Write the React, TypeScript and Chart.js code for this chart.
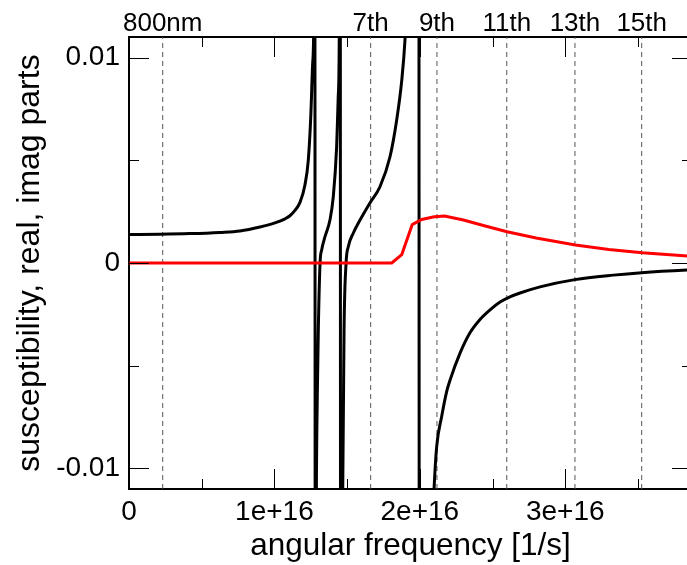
import { useEffect, useRef } from 'react';
import { Chart, registerables } from 'chart.js';

Chart.register(...registerables);

const X_MIN = 0;
const X_MAX = 3.872e16;
const Y_MIN = -0.011;
const Y_MAX = 0.011;

// real part of susceptibility (black)
const realOmega = [
  0, 0.213e16, 0.42e16, 0.626e16, 0.763e16, 0.901e16, 1.004e16, 1.073e16, 1.107e16,
  1.14e16, 1.176e16, 1.21e16, 1.233e16, 1.25e16, 1.263e16, 1.272e16, 1.278e16,
  1.281e16, 1.288e16, 1.295e16, 1.302e16, 1.314e16, 1.325e16, 1.348e16, 1.382e16,
  1.405e16, 1.428e16, 1.439e16, 1.446e16, 1.452e16,
  1.456e16, 1.47e16, 1.479e16, 1.493e16, 1.508e16, 1.543e16, 1.589e16, 1.657e16,
  1.726e16, 1.795e16, 1.841e16, 1.876e16, 1.898e16, 1.93e16, 1.97e16, 1.99e16,
  2.0e16, 2.05e16, 2.098e16, 2.116e16, 2.151e16, 2.185e16, 2.208e16, 2.276e16,
  2.345e16, 2.414e16, 2.483e16, 2.552e16, 2.62e16, 2.689e16, 2.827e16, 3.067e16,
  3.331e16, 3.526e16, 3.838e16, 3.872e16,
];
const realChi = [
  0.00139, 0.0014, 0.00143, 0.00149, 0.00156, 0.00175, 0.00195, 0.00215, 0.0023,
  0.00255, 0.00295, 0.0038, 0.005, 0.0071, 0.0097, 0.0125, 0.03,
  -0.03, -0.012, -0.0065, -0.00326, 0.0, 0.00063, 0.00128, 0.00209,
  0.00323, 0.00566, 0.0081, 0.0109, 0.03,
  -0.03, -0.011, -0.00326, 0.0, 0.00079, 0.00146, 0.00209, 0.00292,
  0.00371, 0.00517, 0.00696, 0.0089, 0.01085, 0.016, 0.03, 0.06,
  -0.06, -0.02, -0.011, -0.00894, -0.00745, -0.00625, -0.0057, -0.0044,
  -0.0034, -0.00275, -0.00228, -0.0019, -0.00165, -0.00146, -0.00116, -0.00081,
  -0.00059, -0.00047, -0.00034, -0.00033,
];

// imaginary part of susceptibility (red)
const imagOmega = [
  0, 1.807e16, 1.876e16, 1.948e16, 2.013e16, 2.1e16, 2.17e16, 2.3e16, 2.45e16,
  2.6e16, 2.8e16, 3.07e16, 3.3e16, 3.53e16, 3.84e16, 3.872e16,
];
const imagChi = [
  0, 0, 0.00041, 0.00187, 0.00212, 0.00225, 0.00229, 0.00209, 0.0018,
  0.00152, 0.00122, 0.00088, 0.00066, 0.0005, 0.00034, 0.00033,
];

// harmonic markers (top axis)
const harmonicOmega = [0.2318e16, 1.662e16, 2.118e16, 2.598e16, 3.067e16, 3.526e16];
const harmonicLabels = ['800nm', '7th', '9th', '11th', '13th', '15th'];

const xMajorTicks = [0, 1e16, 2e16, 3e16];
const xTickLabels = ['0', '1e+16', '2e+16', '3e+16'];
const xMinorTicks = [0.5e16, 1.5e16, 2.5e16, 3.5e16];
const yMajorTicks = [-0.01, 0, 0.01];
const yTickLabels = ['-0.01', '0', '0.01'];
const yMinorTicks = [-0.005, 0.005];

const FONT = "'Liberation Sans', Arial, Helvetica, sans-serif";

const tickMarks = {
  id: 'tickMarks',
  afterDatasetsDraw(chart: any) {
    const { ctx, chartArea: a, scales } = chart;
    const x = scales.x;
    const y = scales.y;
    ctx.save();
    ctx.strokeStyle = '#000';
    ctx.lineWidth = 1;
    const seg = (x1: number, y1: number, x2: number, y2: number) => {
      ctx.beginPath();
      ctx.moveTo(x1, y1);
      ctx.lineTo(x2, y2);
      ctx.stroke();
    };
    const xt = (v: number, len: number) => {
      const px = Math.round(x.getPixelForValue(v)) + 0.5;
      seg(px, a.bottom, px, a.bottom - len);
      seg(px, a.top, px, a.top + len);
    };
    const yt = (v: number, len: number) => {
      const py = Math.round(y.getPixelForValue(v)) + 0.5;
      seg(a.left, py, a.left + len, py);
      seg(a.right, py, a.right - len, py);
    };
    xMajorTicks.forEach((v) => xt(v, 20));
    xMinorTicks.forEach((v) => xt(v, 10));
    yMajorTicks.forEach((v) => yt(v, 20));
    yMinorTicks.forEach((v) => yt(v, 10));
    ctx.restore();
  },
};

export default function App() {
  const ref = useRef<HTMLCanvasElement | null>(null);

  useEffect(() => {
    if (!ref.current) return;
    const harmonicSets = harmonicOmega.map((h) => ({
      data: [
        { x: h, y: Y_MIN },
        { x: h, y: Y_MAX },
      ],
      borderColor: '#555',
      borderWidth: 1,
      borderDash: [5, 4],
      pointRadius: 0,
      tension: 0,
    }));
    const chart = new Chart(ref.current, {
      type: 'line',
      data: {
        datasets: [
          {
            data: imagOmega.map((w, i) => ({ x: w, y: imagChi[i] })),
            borderColor: '#ff0000',
            borderWidth: 3,
            pointRadius: 0,
            tension: 0,
          },
          {
            data: realOmega.map((w, i) => ({ x: w, y: realChi[i] })),
            borderColor: '#000000',
            borderWidth: 3,
            pointRadius: 0,
            cubicInterpolationMode: 'monotone',
          },
          ...harmonicSets,
        ] as any,
      },
      options: {
        responsive: false,
        maintainAspectRatio: false,
        animation: false,
        layout: { padding: { left: 0, right: 8, top: 0, bottom: 0 } },
        plugins: { legend: { display: false }, tooltip: { enabled: false } },
        scales: {
          x: {
            type: 'linear',
            position: 'bottom',
            min: X_MIN,
            max: X_MAX,
            afterBuildTicks: (s: any) => {
              s.ticks = xMajorTicks.map((v) => ({ value: v }));
            },
            afterFit: (s: any) => {
              s.height = 76;
            },
            ticks: {
              autoSkip: false,
              maxRotation: 0,
              padding: 6,
              color: '#000',
              font: { family: FONT, size: 28 },
              callback: (_v: any, i: number) => xTickLabels[i],
            },
            grid: { drawOnChartArea: false, drawTicks: false },
            border: { display: true, color: '#000', width: 2 },
            title: {
              display: true,
              text: 'angular frequency [1/s]',
              color: '#000',
              font: { family: FONT, size: 31.5 },
              padding: { top: 0, bottom: 0 },
            },
          },
          xTop: {
            type: 'linear',
            position: 'top',
            min: X_MIN,
            max: X_MAX,
            afterBuildTicks: (s: any) => {
              s.ticks = harmonicOmega.map((v) => ({ value: v }));
            },
            afterFit: (s: any) => {
              s.height = 37;
            },
            ticks: {
              autoSkip: false,
              maxRotation: 0,
              padding: -2,
              color: '#000',
              font: { family: FONT, size: 26 },
              callback: (_v: any, i: number) => harmonicLabels[i],
            },
            grid: { drawOnChartArea: false, drawTicks: false },
            border: { display: true, color: '#000', width: 2 },
          },
          y: {
            type: 'linear',
            position: 'left',
            min: Y_MIN,
            max: Y_MAX,
            afterBuildTicks: (s: any) => {
              s.ticks = yMajorTicks.map((v) => ({ value: v }));
            },
            afterFit: (s: any) => {
              s.width = 129;
            },
            ticks: {
              padding: 9,
              color: '#000',
              font: { family: FONT, size: 28 },
              callback: (_v: any, i: number) => yTickLabels[i],
            },
            grid: { drawOnChartArea: false, drawTicks: false },
            border: { display: true, color: '#000', width: 2 },
            title: {
              display: true,
              text: 'susceptibility, real, imag parts',
              color: '#000',
              font: { family: FONT, size: 32 },
              padding: { top: 11, bottom: 0 },
            },
          },
        },
      } as any,
      plugins: [tickMarks],
    });
    return () => chart.destroy();
  }, []);

  return (
    <div
      style={{
        position: 'absolute',
        left: 0,
        top: 0,
        width: 687,
        height: 565,
        overflow: 'hidden',
        background: '#fff',
      }}
    >
      <canvas ref={ref} width={700} height={565} style={{ display: 'block', width: 700, height: 565 }} />
    </div>
  );
}
